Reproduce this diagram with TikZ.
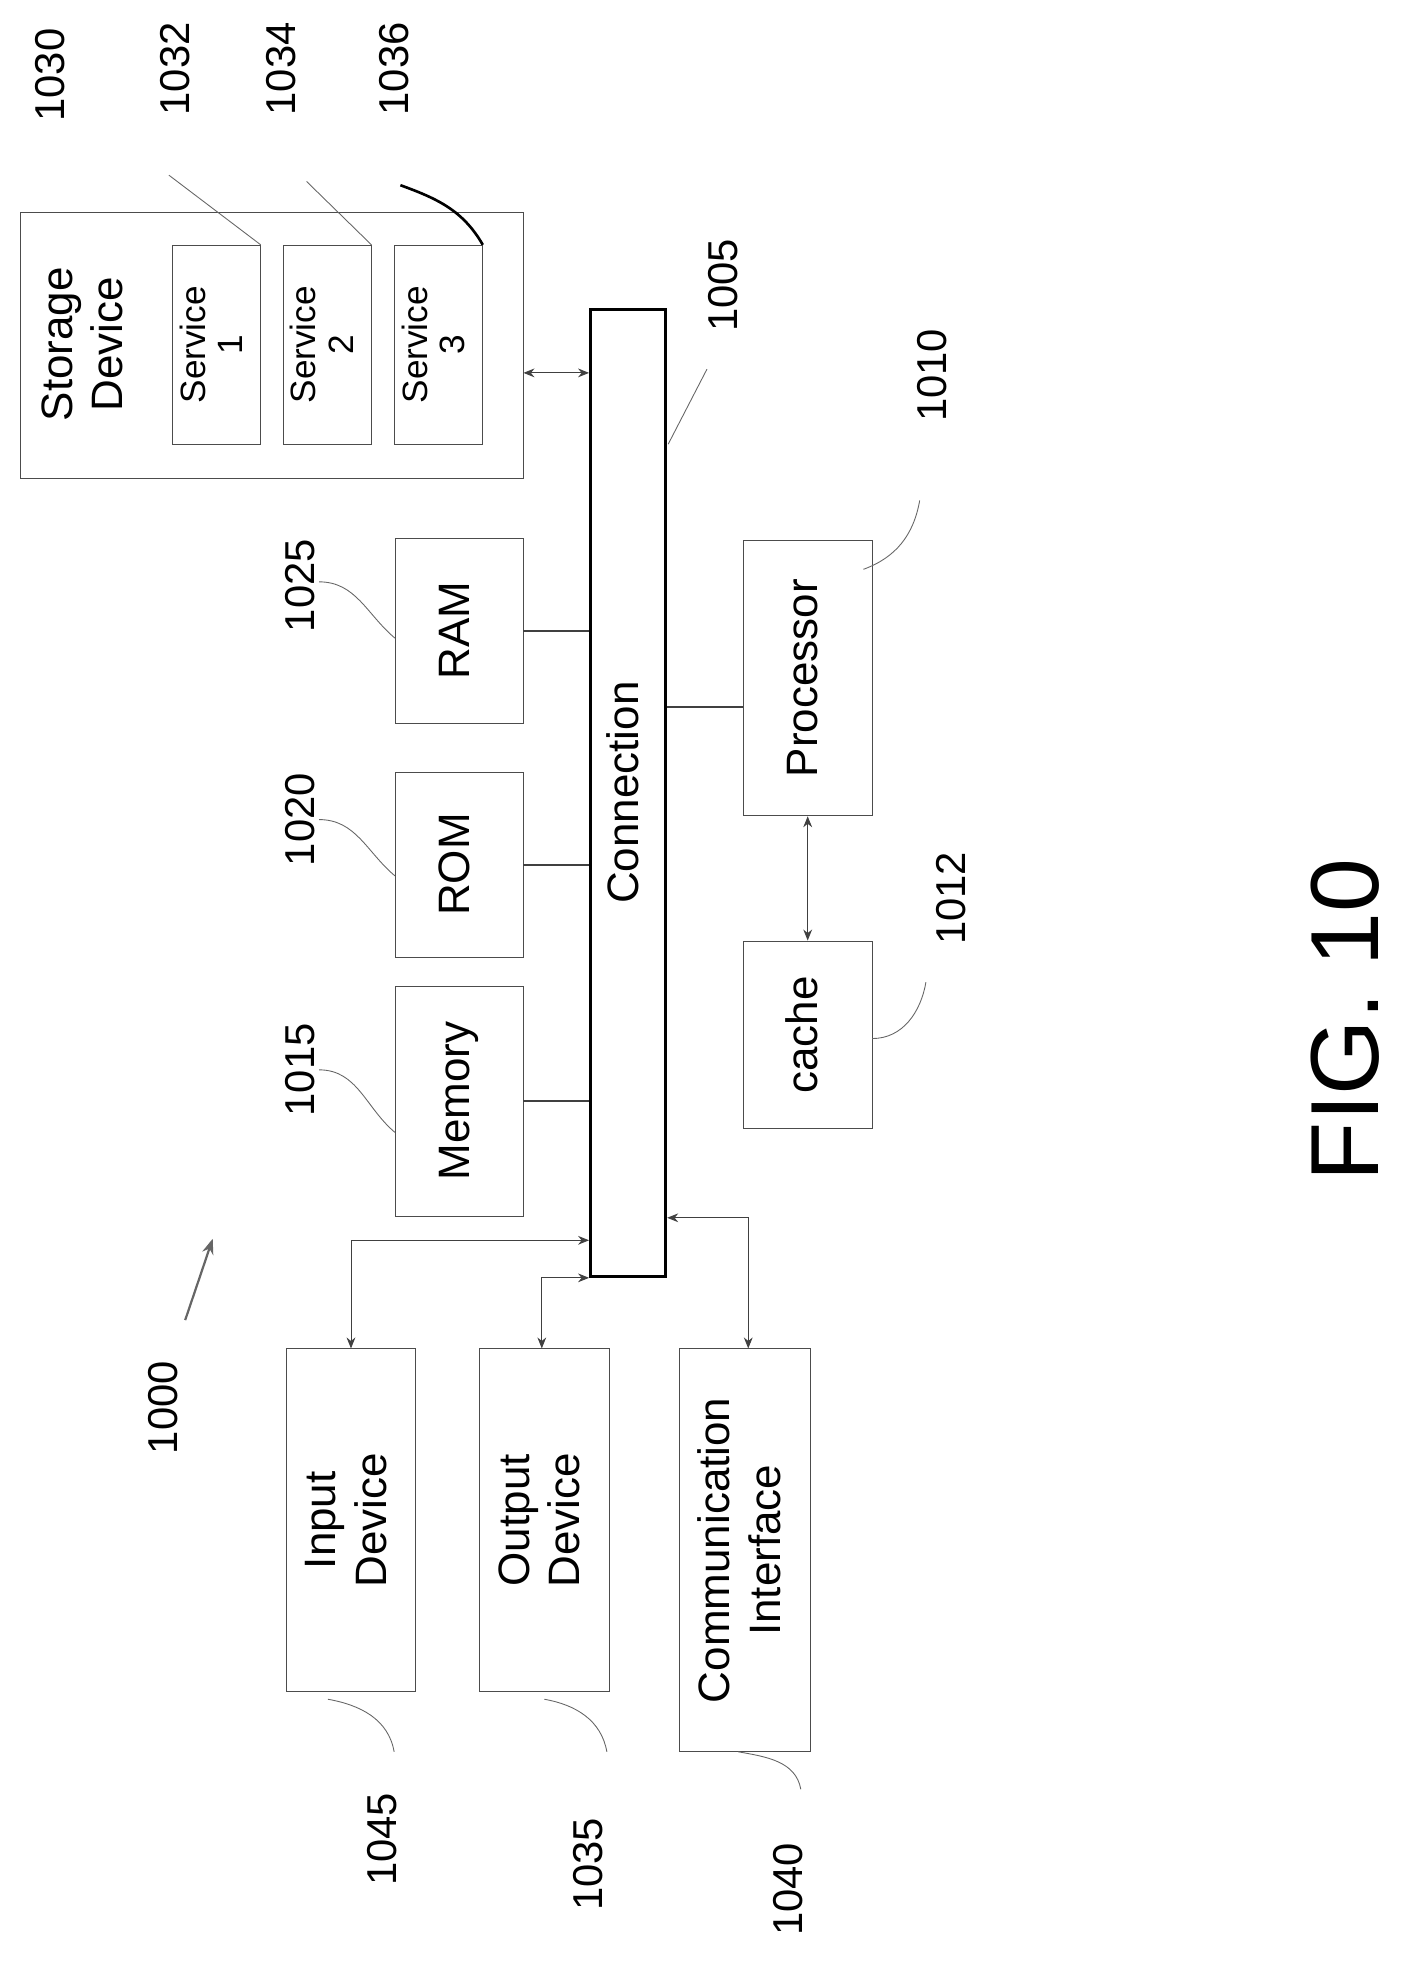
\documentclass[tikz,border=0pt]{standalone}
\usepackage{fontspec}
\setmainfont{Liberation Sans}
\usepackage{graphicx}
\usetikzlibrary{arrows.meta}
\tikzset{
  box/.style={draw=black!70,thin,inner sep=0pt,font=\fontsize{20}{23}\selectfont},
  sbox/.style={box,font=\fontsize{16}{17}\selectfont},
  lbl/.style={rotate=90,font=\fontsize{19}{21}\selectfont},
  lead/.style={black!60,thin},
  link/.style={black!75,thin},
  dlink/.style={link,{Stealth[length=5pt,width=4pt]}-{Stealth[length=5pt,width=4pt]}}
}
\newcommand{\rt}[1]{\rotatebox{90}{\begin{tabular}{@{}c@{}}#1\end{tabular}}}
\begin{document}
\begin{tikzpicture}
\useasboundingbox (0,0) rectangle (22.6,-31.6);
% storage
	\node[box,minimum width=8.04cm,minimum height=4.24cm] (store) at (4.34,-5.52) {};
	\node at (1.4,-5.5) {\fontsize{20}{23}\selectfont\rt{Storage\\Device}};
	\node[sbox,minimum width=1.4cm,minimum height=3.18cm] (svc1) at (3.46,-5.51) {\rt{Service\\1}};
	\node[sbox,minimum width=1.4cm,minimum height=3.18cm] (svc2) at (5.23,-5.51) {\rt{Service\\2}};
	\node[sbox,minimum width=1.4cm,minimum height=3.18cm] (svc3) at (7.01,-5.51) {\rt{Service\\3}};

% bus
	\node[box,draw=black,line width=1.4pt,minimum width=1.2cm,minimum height=15.46cm] (conn) at (10.04,-12.67) {\rt{Connection}};

% memories
	\node[box,minimum width=2.04cm,minimum height=2.96cm] (ram) at (7.34,-10.08) {\rt{RAM}};
	\node[box,minimum width=2.04cm,minimum height=2.96cm] (rom) at (7.34,-13.82) {\rt{ROM}};
	\node[box,minimum width=2.04cm,minimum height=3.68cm] (mem) at (7.34,-17.6) {\rt{Memory}};

	\node[box,minimum width=2.06cm,minimum height=4.4cm] (proc) at (12.91,-10.84) {\rt{Processor}};
	\node[box,minimum width=2.06cm,minimum height=3.0cm] (cache) at (12.91,-16.54) {\rt{cache}};

% devices
	\node[box,minimum width=2.06cm,minimum height=5.48cm] (inp) at (5.61,-24.3) {\rt{Input\\Device}};
	\node[box,minimum width=2.08cm,minimum height=5.48cm] (outp) at (8.70,-24.3) {\rt{Output\\Device}};
	\node[box,minimum width=2.1cm,minimum height=6.44cm] (comm) at (11.91,-24.78) {\rt{Communication\\Interface}};

% links
	\draw[link,line width=1pt] (ram.east) -- (ram.east -| conn.west);
	\draw[link,line width=1pt] (rom.east) -- (rom.east -| conn.west);
	\draw[link,line width=1pt] (mem.east) -- (mem.east -| conn.west);
	\draw[link,line width=1pt] ([yshift=-0.46cm]proc.west) -- ([yshift=-0.46cm]proc.west -| conn.east);
	\draw[dlink] ([yshift=-0.44cm]store.east) -- ([yshift=-0.44cm]store.east -| conn.west);
	\draw[dlink] (proc.south) -- (cache.north);
	\draw[dlink] ([yshift=0.6cm]conn.south west) -| (inp.north);
	\draw[dlink] (conn.south west) -| ([xshift=-0.04cm]outp.north);
	\draw[dlink] ([yshift=0.96cm]conn.south east) -| ([xshift=0.05cm]comm.north);

% labels
	\node[lbl] (l1030) at (0.8,-1.2) {1030};
	\node[lbl] (l1032) at (2.8,-1.1) {1032};
	\node[lbl] (l1034) at (4.5,-1.1) {1034};
	\node[lbl] (l1036) at (6.3,-1.1) {1036};
	\node[lbl] (l1005) at (11.56,-4.56) {1005};
	\node[lbl] (l1010) at (14.9,-6.0) {1010};
	\node[lbl] (l1025) at (4.8,-9.36) {1025};
	\node[lbl] (l1020) at (4.8,-13.1) {1020};
	\node[lbl] (l1015) at (4.8,-17.1) {1015};
	\node[lbl] (l1012) at (15.2,-14.36) {1012};
	\node[lbl] (l1000) at (2.6,-22.5) {1000};
	\node[lbl] (l1045) at (6.1,-29.4) {1045};
	\node[lbl] (l1035) at (9.4,-29.8) {1035};
	\node[lbl] (l1040) at (12.6,-30.2) {1040};
	\node[rotate=90,font=\fontsize{44}{48}\selectfont] (fig) at (21.5,-16.3) {FIG. 10};

% leaders
	\draw[lead] (2.7,-2.8) -- (svc1.north east);
	\draw[lead] (4.9,-2.9) -- (svc2.north east);
	\draw[black,line width=1.2pt] (6.4,-2.96) to[out=-20,in=120] (svc3.north east);
	\draw[lead] (11.3,-5.9) -- (10.68,-7.1);
	\draw[lead] (14.7,-8.0) to[out=-100,in=20] (13.8,-9.1);
	\draw[lead] (5.1,-9.3) to[out=0,in=140] (ram.west |- 0,-10.2);
	\draw[lead] (5.1,-13.1) to[out=0,in=140] (rom.west |- 0,-14.0);
	\draw[lead] (5.1,-17.1) to[out=0,in=140] (mem.west |- 0,-18.1);
	\draw[lead] (14.8,-15.7) to[out=-100,in=0] (13.94,-16.6);
	\draw[lead,-{Stealth[length=7pt]},line width=1pt] (2.96,-21.1) -- (3.4,-19.8);
	\draw[lead] (5.24,-27.16) to[out=-10,in=100] (6.3,-28.0);
	\draw[lead] (8.7,-27.16) to[out=-10,in=100] (9.7,-28.0);
	\draw[lead] (11.8,-28.0) to[out=-10,in=100] (12.8,-28.6);
\end{tikzpicture}
\end{document}
